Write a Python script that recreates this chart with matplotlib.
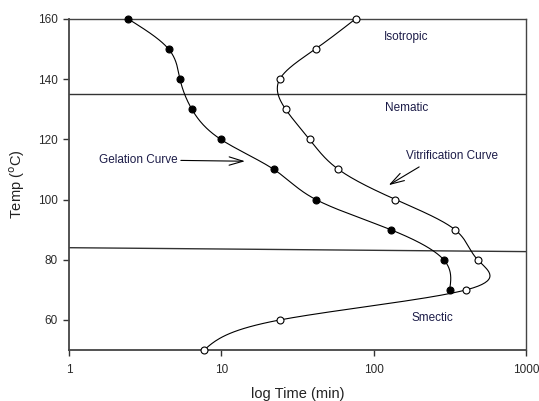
import numpy as np
import matplotlib
matplotlib.use("Agg")
import matplotlib.pyplot as plt

plt.rcParams['font.family'] = ['Liberation Sans', 'DejaVu Sans']

gel_temp = [160, 150, 140, 130, 120, 110, 100, 90, 80, 70]
gel_time = [2.44, 4.5, 5.35, 6.4, 9.9, 22.1, 41.7, 129, 288, 315]

vit_temp = [160, 150, 140, 130, 120, 110, 100, 90, 80, 70, 60, 50]
vit_time = [76, 41.5, 24.2, 26.4, 37.9, 58.7, 139, 341, 481, 405, 24.2, 7.7]

phase_lines = [((1, 1000), (84, 82.7)), ((1, 1000), (135, 135))]


def natural_spline(xk, yk, xs):
    xk = np.asarray(xk, float); yk = np.asarray(yk, float)
    n = len(xk)
    h = np.diff(xk)
    A = np.zeros((n, n)); b = np.zeros(n)
    A[0, 0] = 1; A[-1, -1] = 1
    for i in range(1, n - 1):
        A[i, i - 1] = h[i - 1]
        A[i, i] = 2 * (h[i - 1] + h[i])
        A[i, i + 1] = h[i]
        b[i] = 3 * ((yk[i + 1] - yk[i]) / h[i] - (yk[i] - yk[i - 1]) / h[i - 1])
    c = np.linalg.solve(A, b)
    out = np.empty_like(xs)
    for j, x in enumerate(xs):
        i = np.searchsorted(xk, x) - 1
        i = min(max(i, 0), n - 2)
        dx = x - xk[i]
        bb = (yk[i + 1] - yk[i]) / h[i] - h[i] * (2 * c[i] + c[i + 1]) / 3
        dd = (c[i + 1] - c[i]) / (3 * h[i])
        out[j] = yk[i] + bb * dx + c[i] * dx ** 2 + dd * dx ** 3
    return out


fig = plt.figure(figsize=(5.39, 4.01), dpi=100)
ax = fig.add_axes([0.128, 0.127, 0.848, 0.826])

for temps, times, face in [(gel_temp, gel_time, 'black'), (vit_temp, vit_time, 'white')]:
    t = np.array(temps[::-1], float)
    lx = np.log10(np.array(times[::-1], float))
    ts = np.linspace(t.min(), t.max(), 400)
    ax.plot(10 ** natural_spline(t, lx, ts), ts, color='black', lw=0.8, zorder=2)
    ax.plot(times, temps, 'o', ms=5, mfc=face, mec='black', mew=0.8, zorder=3,
            clip_on=False)

for xs, ys in phase_lines:
    ax.plot(xs, ys, color='#333333', lw=1.0, zorder=1)

ax.set_xscale('log')
ax.set_xlim(1, 1000)
ax.set_ylim(50, 160)
ax.set_yticks([60, 80, 100, 120, 140, 160])
ax.set_xticks([1, 10, 100, 1000])
ax.set_xticklabels(['1', '10', '100', '1000'])
ax.minorticks_off()
ax.tick_params(direction='out', length=4, width=1, labelsize=8.5, colors='#333333',
               labelcolor='#2a2a2a')
ax.tick_params(axis='x', pad=6)
ax.tick_params(axis='y', pad=4)
for s in ax.spines.values():
    s.set_color('#444444')
    s.set_linewidth(1.0)
ax.spines['left'].set_linewidth(1.3)
ax.spines['bottom'].set_linewidth(1.3)

ax.set_ylabel('Temp ($^{\\mathrm{o}}$C)', fontsize=10.5, color='#222222', labelpad=8)
ax.set_xlabel('log Time (min)', fontsize=10.5, color='#222222', labelpad=8)

tc = '#1c1c48'
fs = 8.5
ax.text(164, 154, 'Isotropic', fontsize=fs, color=tc, ha='center', va='center')
ax.text(164, 130.3, 'Nematic', fontsize=fs, color=tc, ha='center', va='center')
ax.text(244, 60.7, 'Smectic', fontsize=fs, color=tc, ha='center', va='center')
ax.text(325, 114.3, 'Vitrification Curve', fontsize=fs, color=tc, ha='center', va='center')
ax.text(2.85, 113, 'Gelation Curve', fontsize=fs, color=tc, ha='center', va='center')

ax.annotate('', xy=(14.9, 112.7), xytext=(5.2, 113),
            arrowprops=dict(arrowstyle='->,head_length=1.0,head_width=0.3', lw=0.8, color='black'))
ax.annotate('', xy=(121, 104.3), xytext=(206, 111.3),
            arrowprops=dict(arrowstyle='->,head_length=1.0,head_width=0.3', lw=0.8, color='black'))

fig.savefig('out.png', dpi=100)
